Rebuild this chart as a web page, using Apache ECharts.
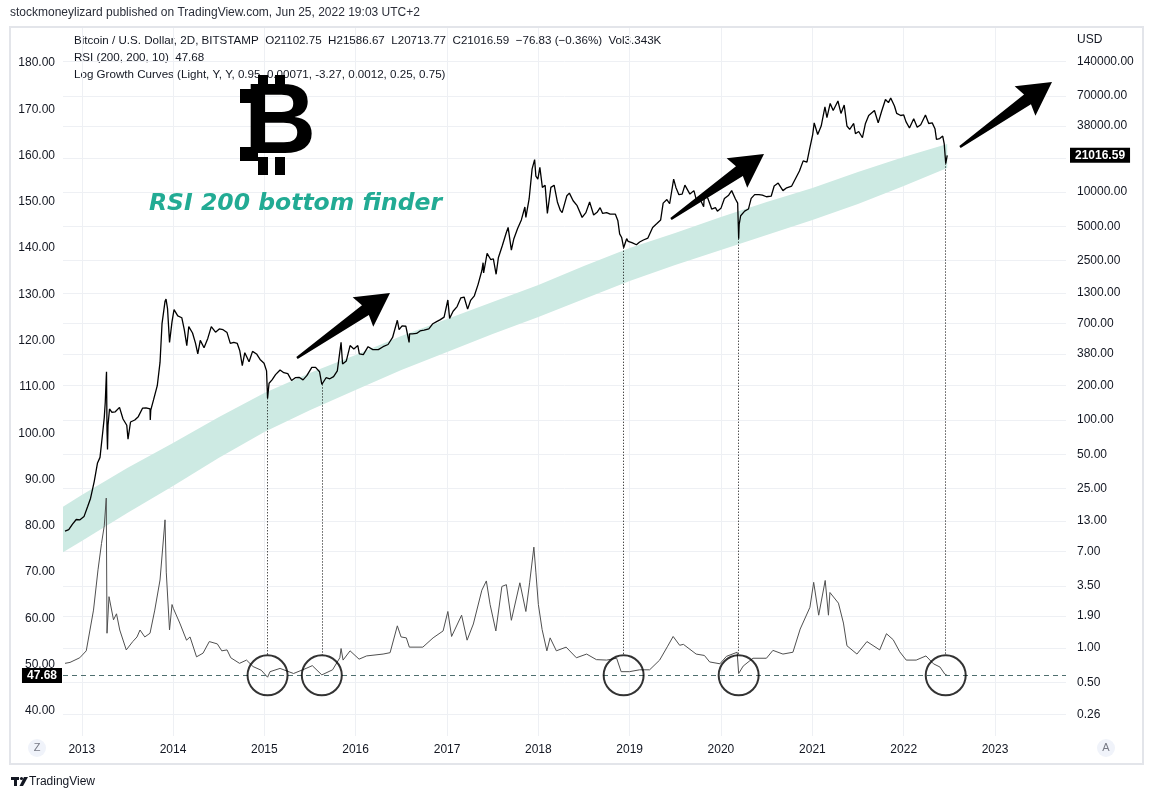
<!DOCTYPE html>
<html>
<head>
<meta charset="utf-8">
<title>BTCUSD 2D - RSI 200 bottom finder</title>
<script src="https://cdn.jsdelivr.net/npm/echarts@6/dist/echarts.min.js"></script>
<style>
    html, body { margin: 0; padding: 0; background: #fff; }
    #main { width: 1154px; height: 799px; }
</style>
</head>
<body>
<div id="main"></div>
<script>
// BTCUSD (Bitstamp, 2D) closes
var price = [
    ['2012-10-26', 10.6], ['2012-11-10', 10.9], ['2012-11-25', 12.2], ['2012-12-10', 13.4], ['2012-12-25', 13.3],
    ['2013-01-10', 14.2], ['2013-01-25', 17.5], ['2013-02-05', 20.5], ['2013-02-20', 29], ['2013-03-05', 42],
    ['2013-03-15', 47], ['2013-03-25', 75], ['2013-04-01', 105], ['2013-04-05', 143], ['2013-04-09', 240],
    ['2013-04-10', 265], ['2013-04-12', 80], ['2013-04-14', 55], ['2013-04-16', 90], ['2013-04-22', 125],
    ['2013-05-01', 117], ['2013-05-15', 118], ['2013-06-01', 129], ['2013-06-15', 102], ['2013-06-30', 90],
    ['2013-07-05', 68], ['2013-07-15', 96], ['2013-08-01', 100], ['2013-08-15', 107], ['2013-09-01', 127],
    ['2013-09-15', 128], ['2013-10-01', 125], ['2013-10-02', 100], ['2013-10-04', 122], ['2013-10-15', 150],
    ['2013-10-30', 200], ['2013-11-10', 320], ['2013-11-18', 700], ['2013-11-30', 1100], ['2013-12-04', 1150],
    ['2013-12-10', 950], ['2013-12-18', 480], ['2013-12-28', 730], ['2014-01-05', 930], ['2014-01-20', 820],
    ['2014-02-05', 790], ['2014-02-15', 620], ['2014-02-25', 450], ['2014-03-05', 660], ['2014-03-20', 580],
    ['2014-04-01', 470], ['2014-04-10', 380], ['2014-04-20', 500], ['2014-05-05', 430], ['2014-05-20', 520],
    ['2014-06-03', 660], ['2014-06-20', 590], ['2014-07-05', 630], ['2014-07-20', 620], ['2014-08-05', 585],
    ['2014-08-18', 470], ['2014-09-01', 480], ['2014-09-15', 470], ['2014-09-25', 405], ['2014-10-05', 300],
    ['2014-10-15', 390], ['2014-11-01', 325], ['2014-11-15', 400], ['2014-12-01', 380], ['2014-12-15', 340],
    ['2014-12-31', 315], ['2015-01-10', 270], ['2015-01-14', 155], ['2015-01-20', 210], ['2015-02-01', 225],
    ['2015-02-15', 250], ['2015-03-05', 275], ['2015-03-20', 260], ['2015-04-05', 255], ['2015-04-20', 222],
    ['2015-05-05', 235], ['2015-05-20', 237], ['2015-06-05', 225], ['2015-06-20', 245], ['2015-07-10', 290],
    ['2015-07-25', 290], ['2015-08-10', 265], ['2015-08-19', 205], ['2015-09-05', 235], ['2015-09-20', 230],
    ['2015-10-05', 240], ['2015-10-20', 270], ['2015-11-04', 480], ['2015-11-10', 310], ['2015-11-25', 330],
    ['2015-12-10', 450], ['2015-12-25', 420], ['2016-01-10', 450], ['2016-01-16', 380], ['2016-02-01', 375],
    ['2016-02-20', 440], ['2016-03-10', 415], ['2016-04-01', 415], ['2016-04-20', 440], ['2016-05-10', 460],
    ['2016-05-28', 530], ['2016-06-16', 750], ['2016-06-23', 620], ['2016-07-05', 670], ['2016-07-20', 665],
    ['2016-08-02', 480], ['2016-08-04', 570], ['2016-08-15', 570], ['2016-09-01', 575], ['2016-09-15', 605],
    ['2016-10-01', 615], ['2016-10-20', 630], ['2016-11-05', 700], ['2016-11-20', 730], ['2016-12-05', 760],
    ['2016-12-20', 800], ['2017-01-04', 1130], ['2017-01-11', 780], ['2017-01-25', 900], ['2017-02-10', 990],
    ['2017-02-25', 1180], ['2017-03-10', 1200], ['2017-03-24', 940], ['2017-04-05', 1120], ['2017-04-20', 1230],
    ['2017-05-05', 1550], ['2017-05-20', 2050], ['2017-05-25', 2400], ['2017-05-27', 1950], ['2017-06-10', 2900],
    ['2017-06-25', 2550], ['2017-07-05', 2600], ['2017-07-16', 1900], ['2017-07-25', 2650], ['2017-08-10', 3400],
    ['2017-08-25', 4350], ['2017-09-02', 4900], ['2017-09-15', 3100], ['2017-09-25', 3900], ['2017-10-10', 4800],
    ['2017-10-25', 5700], ['2017-11-08', 7400], ['2017-11-12', 6000], ['2017-11-25', 8700], ['2017-12-07', 16000],
    ['2017-12-17', 19300], ['2017-12-22', 13800], ['2017-12-30', 13000], ['2018-01-07', 16500], ['2018-01-17', 11000],
    ['2018-01-28', 11500], ['2018-02-06', 6500], ['2018-02-20', 11000], ['2018-03-05', 11500], ['2018-03-18', 8200],
    ['2018-03-30', 6900], ['2018-04-06', 6600], ['2018-04-25', 9300], ['2018-05-05', 9800], ['2018-05-20', 8400],
    ['2018-06-05', 7600], ['2018-06-25', 6000], ['2018-07-10', 6600], ['2018-07-25', 8200], ['2018-08-10', 6300],
    ['2018-08-25', 6700], ['2018-09-05', 7300], ['2018-09-15', 6500], ['2018-10-01', 6600], ['2018-10-15', 6400],
    ['2018-11-05', 6400], ['2018-11-15', 5600], ['2018-11-22', 4300], ['2018-11-30', 4000], ['2018-12-08', 3250],
    ['2018-12-20', 3900], ['2018-12-26', 3700], ['2019-01-10', 3600], ['2019-01-28', 3450], ['2019-02-10', 3650],
    ['2019-02-25', 3800], ['2019-03-15', 3950], ['2019-04-03', 4900], ['2019-04-20', 5300], ['2019-05-05', 5700],
    ['2019-05-15', 8000], ['2019-05-30', 8600], ['2019-06-10', 7900], ['2019-06-26', 13000], ['2019-07-05', 11000],
    ['2019-07-17', 9500], ['2019-07-30', 9600], ['2019-08-10', 11500], ['2019-08-30', 9600], ['2019-09-15', 10300],
    ['2019-09-25', 8500], ['2019-10-10', 8600], ['2019-10-24', 7450], ['2019-10-27', 9500], ['2019-11-10', 8800],
    ['2019-11-25', 7100], ['2019-12-10', 7300], ['2019-12-18', 6800], ['2020-01-01', 7200], ['2020-01-15', 8800],
    ['2020-02-01', 9400], ['2020-02-13', 10300], ['2020-02-28', 8700], ['2020-03-08', 8000], ['2020-03-12', 3900],
    ['2020-03-14', 5200], ['2020-03-20', 6200], ['2020-04-05', 6800], ['2020-04-20', 7100], ['2020-05-01', 8800],
    ['2020-05-15', 9500], ['2020-06-01', 9500], ['2020-06-15', 9400], ['2020-07-01', 9100], ['2020-07-20', 9200],
    ['2020-08-01', 11300], ['2020-08-17', 12000], ['2020-09-05', 10300], ['2020-09-20', 10900], ['2020-10-10', 11300],
    ['2020-10-25', 13100], ['2020-11-10', 15300], ['2020-11-25', 18800], ['2020-12-10', 18300], ['2020-12-20', 23500],
    ['2021-01-02', 32000], ['2021-01-08', 40500], ['2021-01-22', 32000], ['2021-02-05', 38000], ['2021-02-20', 56000],
    ['2021-02-28', 45000], ['2021-03-13', 60000], ['2021-03-25', 52000], ['2021-04-13', 63000], ['2021-04-25', 49000],
    ['2021-05-08', 58000], ['2021-05-19', 38000], ['2021-05-30', 35500], ['2021-06-15', 40000], ['2021-06-22', 32500],
    ['2021-07-05', 34000], ['2021-07-20', 30000], ['2021-08-01', 40000], ['2021-08-14', 47000], ['2021-09-06', 52000],
    ['2021-09-21', 40500], ['2021-10-05', 51500], ['2021-10-20', 65000], ['2021-11-01', 61000], ['2021-11-10', 67000],
    ['2021-11-25', 57000], ['2021-12-04', 49000], ['2021-12-20', 47000], ['2022-01-01', 47500], ['2022-01-10', 41500],
    ['2022-01-24', 36500], ['2022-02-10', 44000], ['2022-02-24', 37000], ['2022-03-10', 39000], ['2022-03-29', 47500],
    ['2022-04-11', 40000], ['2022-04-25', 40500], ['2022-05-06', 36000], ['2022-05-12', 29000], ['2022-05-25', 29500],
    ['2022-06-06', 31000], ['2022-06-12', 26500], ['2022-06-18', 17800], ['2022-06-24', 21016.59]
];

// RSI (200, 200, 10), left scale
var rsi = [
    ['2012-10-26', 50.3], ['2012-11-15', 50.5], ['2012-12-24', 51.5], ['2013-01-19', 53], ['2013-02-17', 61.8],
    ['2013-03-07', 70.5], ['2013-03-21', 76.2], ['2013-04-01', 80], ['2013-04-09', 86], ['2013-04-12', 56.8],
    ['2013-04-20', 64.7], ['2013-05-08', 59.7], ['2013-05-20', 61], ['2013-06-02', 57.5], ['2013-06-28', 53.2],
    ['2013-07-24', 55], ['2013-08-10', 56], ['2013-08-22', 57.5], ['2013-09-10', 56], ['2013-10-01', 56.8],
    ['2013-10-20', 61.8], ['2013-11-10', 68.3], ['2013-11-30', 81.3], ['2013-12-05', 70], ['2013-12-18', 57.5],
    ['2013-12-28', 63], ['2014-01-02', 62.2], ['2014-01-28', 59], ['2014-02-24', 55.3], ['2014-03-10', 56],
    ['2014-04-05', 51.7], ['2014-05-01', 52.5], ['2014-05-26', 55], ['2014-06-27', 54.5], ['2014-07-15', 53],
    ['2014-08-05', 53.2], ['2014-08-20', 51.5], ['2014-09-24', 50.3], ['2014-10-22', 51], ['2014-11-17', 49.6],
    ['2014-12-20', 48.8], ['2015-01-14', 47.3], ['2015-01-24', 48.5], ['2015-03-05', 49.2], ['2015-04-28', 48.1],
    ['2015-06-17', 49.2], ['2015-07-12', 49.8], ['2015-08-19', 47.8], ['2015-10-01', 48.9], ['2015-10-30', 51.5],
    ['2015-11-04', 53.5], ['2015-11-12', 51], ['2015-12-10', 53], ['2016-01-15', 51.2], ['2016-02-14', 51.9],
    ['2016-04-20', 52.3], ['2016-05-18', 52.6], ['2016-06-16', 58.4], ['2016-07-01', 56], ['2016-07-22', 55.8],
    ['2016-08-03', 53.8], ['2016-09-26', 53.8], ['2016-11-06', 55.8], ['2016-12-16', 57.3], ['2017-01-04', 61.5],
    ['2017-01-19', 56.1], ['2017-02-28', 60.7], ['2017-03-22', 55.3], ['2017-04-16', 58.8], ['2017-05-20', 66.1],
    ['2017-06-07', 68.1], ['2017-06-22', 63], ['2017-07-15', 57.3], ['2017-08-08', 66.9], ['2017-08-26', 67.3],
    ['2017-09-15', 59.6], ['2017-10-19', 67.7], ['2017-11-12', 61.5], ['2017-11-27', 67.7], ['2017-12-14', 75.4],
    ['2017-12-22', 70], ['2018-01-01', 63], ['2018-01-16', 57.6], ['2018-02-04', 53], ['2018-02-17', 55.8],
    ['2018-03-14', 53], ['2018-04-22', 53.8], ['2018-06-02', 51.5], ['2018-07-13', 52.3], ['2018-08-21', 51.1],
    ['2018-10-01', 51], ['2018-11-10', 51.4], ['2018-11-28', 48.5], ['2018-12-31', 48.5], ['2019-02-10', 48.9],
    ['2019-03-22', 48.9], ['2019-05-01', 51], ['2019-06-02', 54], ['2019-06-24', 56.1], ['2019-07-20', 54.2],
    ['2019-08-04', 54.4], ['2019-09-24', 52.3], ['2019-10-27', 52], ['2019-11-17', 50.6], ['2019-12-28', 50.2],
    ['2020-01-23', 51.8], ['2020-03-06', 52.7], ['2020-03-12', 48.1], ['2020-03-30', 49.7], ['2020-05-08', 51.4],
    ['2020-07-01', 51.4], ['2020-07-27', 53.1], ['2020-09-05', 52.3], ['2020-10-15', 52.7], ['2020-11-13', 57.7],
    ['2020-12-22', 62.4], ['2021-01-06', 67.8], ['2021-01-26', 60.7], ['2021-02-21', 68.2], ['2021-03-06', 60.7],
    ['2021-03-12', 65.6], ['2021-04-15', 63.3], ['2021-05-05', 59], ['2021-05-19', 54.1], ['2021-06-28', 52.3],
    ['2021-08-07', 55], ['2021-09-27', 53.2], ['2021-10-24', 56.7], ['2021-11-20', 55.4], ['2021-12-16', 52.8],
    ['2022-01-11', 51], ['2022-02-20', 51], ['2022-03-31', 51.9], ['2022-04-30', 50.2], ['2022-05-26', 49.5],
    ['2022-06-14', 48], ['2022-06-24', 47.68]
];

// Log growth curves band (0.25 / 0.75)
var bandDates = ['2012-10-18', '2013-01-01', '2013-07-02', '2014-01-01', '2014-07-02', '2015-01-01', '2015-07-02',
    '2016-01-01', '2016-07-02', '2017-01-01', '2017-07-02', '2018-01-01', '2018-07-02', '2019-01-01', '2019-07-02',
    '2020-01-01', '2020-07-02', '2021-01-01', '2021-07-02', '2022-01-01', '2022-06-24'];
var bandUpper = [17.3, 22, 37.9, 62.8, 106, 173, 258, 372, 546, 770, 1085, 1530, 2246, 3231, 4377,
    6046, 8188, 10864, 15010, 20320, 26430];
var bandLower = [6.9, 8.67, 15.3, 26.4, 46.4, 78.5, 122, 183, 275, 395, 568, 802, 1153, 1659, 2292,
    3104, 4203, 5691, 7865, 11310, 16270];

// circled RSI bottoms and the price lows they point to
var bottomDates = ['2015-01-14', '2015-08-19', '2018-12-08', '2020-03-12', '2022-06-18'];
var bottomPrices = [155, 205, 3250, 3900, 17800];
var bottomRsi = 47.7;

var lastClose = 21016.59;
var lastRsi = 47.68;

// tick labels
var yearTicks = ['2013-01-01', '2014-01-01', '2015-01-01', '2016-01-01', '2017-01-01', '2018-01-01',
    '2019-01-01', '2020-01-01', '2021-01-01', '2022-01-01', '2023-01-01'];
var rsiTicks = [40, 50, 60, 70, 80, 90, 100, 110, 120, 130, 140, 150, 160, 170, 180];
var priceTicks = [0.26, 0.5, 1, 1.9, 3.5, 7, 13, 25, 50, 100, 200, 380, 700, 1300, 2500, 5000, 10000, 38000, 70000, 140000];
var priceGrid = priceTicks.concat([20000]);

var PRICE_MIN = 0.1687, PRICE_MAX = 275400;
var FONT = 'Liberation Sans';
var TEXT = '#131722';

function ts(d) {
    return Date.parse(d + 'T00:00:00Z');
}

function log10(v) {
    return Math.log(v) / Math.LN10;
}

function toXY(rows) {
    return rows.map(function (r) {
        return [ts(r[0]), r[1]];
    });
}

// filled wedge arrow from tail to tip
function arrow(x0, y0, x1, y1) {
    var dx = x1 - x0, dy = y1 - y0;
    var len = Math.sqrt(dx * dx + dy * dy);
    var ux = dx / len, uy = dy / len, nx = -uy, ny = ux;
    var local = [[0, 1.2], [len - 30, 6], [len - 33, 18], [len, 0], [len - 33, -18], [len - 30, -6], [0, -1.2]];
    var pts = local.map(function (p) {
        return [x0 + ux * p[0] + nx * p[1], y0 + uy * p[0] + ny * p[1]];
    });
    return {type: 'polygon', z: 50, shape: {points: pts}, style: {fill: '#000'}};
}

var badge = {
    backgroundColor: '#000',
    color: '#fff',
    fontFamily: FONT,
    fontSize: 12,
    fontWeight: 'bold',
    padding: [2, 5, 1, 5]
};

var myChart = echarts.init(document.getElementById('main'));

var option = {
    animation: false,
    backgroundColor: '#fff',
    grid: {left: 63, right: 88, top: 28, bottom: 63, containLabel: false},
    xAxis: {
        type: 'value',
        min: ts('2012-10-18'),
        max: ts('2023-10-12'),
        axisLine: {show: false},
        axisTick: {show: false, customValues: yearTicks.map(ts)},
        axisLabel: {
            customValues: yearTicks.map(ts),
            color: TEXT, fontFamily: FONT, fontSize: 12, margin: 8,
            formatter: function (v) {
                return String(new Date(v).getUTCFullYear());
            }
        },
        splitLine: {show: true, lineStyle: {color: '#eef0f4', width: 1}}
    },
    yAxis: [
        {
            // RSI scale (left)
            type: 'value',
            position: 'left',
            min: 34.6,
            max: 187.56,
            axisLine: {show: false},
            axisTick: {show: false},
            splitLine: {show: false},
            axisLabel: {
                customValues: rsiTicks,
                color: TEXT, fontFamily: FONT, fontSize: 12, margin: 8,
                formatter: function (v) {
                    return v.toFixed(2);
                }
            }
        },
        {
            // price scale, log (right) - draws the series
            type: 'log',
            logBase: 10,
            position: 'right',
            min: PRICE_MIN,
            max: PRICE_MAX,
            show: false,
            splitLine: {show: false}
        },
        {
            // label layer for the price scale
            type: 'value',
            position: 'right',
            min: log10(PRICE_MIN),
            max: log10(PRICE_MAX),
            axisLine: {show: false},
            axisTick: {show: false, customValues: priceGrid.map(log10)},
            splitLine: {show: true, lineStyle: {color: '#eef0f4', width: 1}},
            axisLabel: {
                customValues: priceTicks.map(log10),
                color: TEXT, fontFamily: FONT, fontSize: 12, margin: 11,
                formatter: function (v) {
                    return Math.pow(10, v).toFixed(2);
                }
            }
        }
    ],
    series: [
        {
            name: 'Log Growth Curves',
            type: 'custom',
            xAxisIndex: 0,
            yAxisIndex: 1,
            silent: true,
            clip: true,
            z: 1,
            data: [[ts(bandDates[0]), bandUpper[0]]],
            renderItem: function (params, api) {
                var pts = [];
                for (var i = 0; i < bandDates.length; i++) {
                    pts.push(api.coord([ts(bandDates[i]), bandUpper[i]]));
                }
                for (var j = bandDates.length - 1; j >= 0; j--) {
                    pts.push(api.coord([ts(bandDates[j]), bandLower[j]]));
                }
                return {type: 'polygon', shape: {points: pts}, style: {fill: '#cdeae3'}};
            }
        },
        {
            name: 'RSI',
            type: 'line',
            yAxisIndex: 0,
            data: toXY(rsi),
            showSymbol: false,
            z: 3,
            lineStyle: {color: '#505050', width: 1},
            markLine: {
                silent: true,
                symbol: 'none',
                lineStyle: {color: '#4f6f6f', type: [5, 4], width: 1},
                label: Object.assign({position: 'start', distance: 1, formatter: lastRsi.toFixed(2)}, badge),
                data: [{yAxis: lastRsi}]
            }
        },
        {
            name: 'BTCUSD',
            type: 'line',
            yAxisIndex: 1,
            data: toXY(price),
            showSymbol: false,
            z: 4,
            lineStyle: {color: '#000', width: 1.3},
            markLine: {
                silent: true,
                symbol: 'none',
                lineStyle: {color: '#000', type: [1, 2], width: 1},
                label: {show: false},
                data: bottomDates.map(function (d, i) {
                    return [{coord: [ts(d), bottomPrices[i]]}, {coord: [ts(d), 0.87]}];
                })
            }
        },
        {
            // last close badge on the price scale
            name: 'last',
            type: 'line',
            yAxisIndex: 1,
            data: [],
            markLine: {
                silent: true,
                symbol: 'none',
                lineStyle: {color: 'rgba(0,0,0,0)', width: 0},
                label: Object.assign({show: true, position: 'end', distance: 4, formatter: lastClose.toFixed(2)}, badge),
                data: [{yAxis: lastClose}]
            }
        },
        {
            name: 'bottoms',
            type: 'scatter',
            yAxisIndex: 0,
            silent: true,
            z: 5,
            symbol: 'circle',
            symbolSize: 40,
            itemStyle: {color: 'rgba(0,0,0,0)', borderColor: '#000', borderWidth: 2},
            data: bottomDates.map(function (d) {
                return [ts(d), bottomRsi];
            })
        }
    ],
    graphic: [
        // frame
        {type: 'rect', z: 0, shape: {x: 10, y: 27, width: 1133, height: 737}, style: {fill: null, stroke: '#e3e5ea', lineWidth: 2}},
        {type: 'text', x: 10, y: 13, style: {text: 'stockmoneylizard published on TradingView.com, Jun 25, 2022 19:03 UTC+2', font: '12px "Liberation Sans"', fill: '#2a2e39', textVerticalAlign: 'middle'}},
        // legend lines
        {type: 'text', x: 74, y: 41, style: {text: 'Bitcoin / U.S. Dollar, 2D, BITSTAMP  O21102.75  H21586.67  L20713.77  C21016.59  \u221276.83 (\u22120.36%)  Vol3.343K', font: '11.6px "Liberation Sans"', fill: TEXT, textVerticalAlign: 'middle'}},
        {type: 'text', x: 74, y: 58, style: {text: 'RSI (200, 200, 10)  47.68', font: '11.6px "Liberation Sans"', fill: TEXT, textVerticalAlign: 'middle'}},
        {type: 'text', x: 74, y: 75, style: {text: 'Log Growth Curves (Light, Y, Y, 0.95, 0.00071, -3.27, 0.0012, 0.25, 0.75)', font: '11.6px "Liberation Sans"', fill: TEXT, textVerticalAlign: 'middle'}},
        {type: 'text', x: 1077, y: 40, style: {text: 'USD', font: '12px "Liberation Sans"', fill: TEXT, textVerticalAlign: 'middle'}},
        // bitcoin logo
        {type: 'text', z: 40, x: 244, y: 125, style: {text: 'B', font: 'bold 100px "Liberation Sans"', fill: '#000', textVerticalAlign: 'middle'}},
        {type: 'rect', z: 40, shape: {x: 240, y: 89, width: 18, height: 14}, style: {fill: '#000'}},
        {type: 'rect', z: 40, shape: {x: 240, y: 147, width: 18, height: 14}, style: {fill: '#000'}},
        {type: 'rect', z: 40, shape: {x: 258, y: 75, width: 10, height: 18}, style: {fill: '#000'}},
        {type: 'rect', z: 40, shape: {x: 275, y: 75, width: 10, height: 18}, style: {fill: '#000'}},
        {type: 'rect', z: 40, shape: {x: 258, y: 157, width: 10, height: 18}, style: {fill: '#000'}},
        {type: 'rect', z: 40, shape: {x: 275, y: 157, width: 10, height: 18}, style: {fill: '#000'}},
        {type: 'text', z: 40, x: 149, y: 204, style: {text: 'RSI 200 bottom finder', font: 'italic bold 23.5px "DejaVu Sans"', fill: '#22ab94', textVerticalAlign: 'middle'}},
        arrow(297, 358, 390, 293),
        arrow(671, 219, 764, 154),
        arrow(960, 147, 1052, 82),
        // scale buttons
        {type: 'circle', shape: {cx: 37, cy: 748, r: 9}, style: {fill: '#f0f3fa'}},
        {type: 'text', x: 37, y: 748, style: {text: 'Z', font: '11px "Liberation Sans"', fill: '#787b86', textAlign: 'center', textVerticalAlign: 'middle'}},
        {type: 'circle', shape: {cx: 1106, cy: 748, r: 9}, style: {fill: '#f0f3fa'}},
        {type: 'text', x: 1106, y: 748, style: {text: 'A', font: '11px "Liberation Sans"', fill: '#787b86', textAlign: 'center', textVerticalAlign: 'middle'}},
        // TradingView mark
        {type: 'rect', shape: {x: 11, y: 777, width: 8, height: 3}, style: {fill: '#131722'}},
        {type: 'rect', shape: {x: 14, y: 777, width: 3, height: 9}, style: {fill: '#131722'}},
        {type: 'circle', shape: {cx: 21.5, cy: 778.5, r: 1.6}, style: {fill: '#131722'}},
        {type: 'polygon', shape: {points: [[24, 777], [28, 777], [23, 786], [19.5, 786]]}, style: {fill: '#131722'}},
        {type: 'text', x: 29, y: 782, style: {text: 'TradingView', font: '12px "Liberation Sans"', fill: '#131722', textVerticalAlign: 'middle'}}
    ]
};

myChart.setOption(option);
</script>
</body>
</html>
